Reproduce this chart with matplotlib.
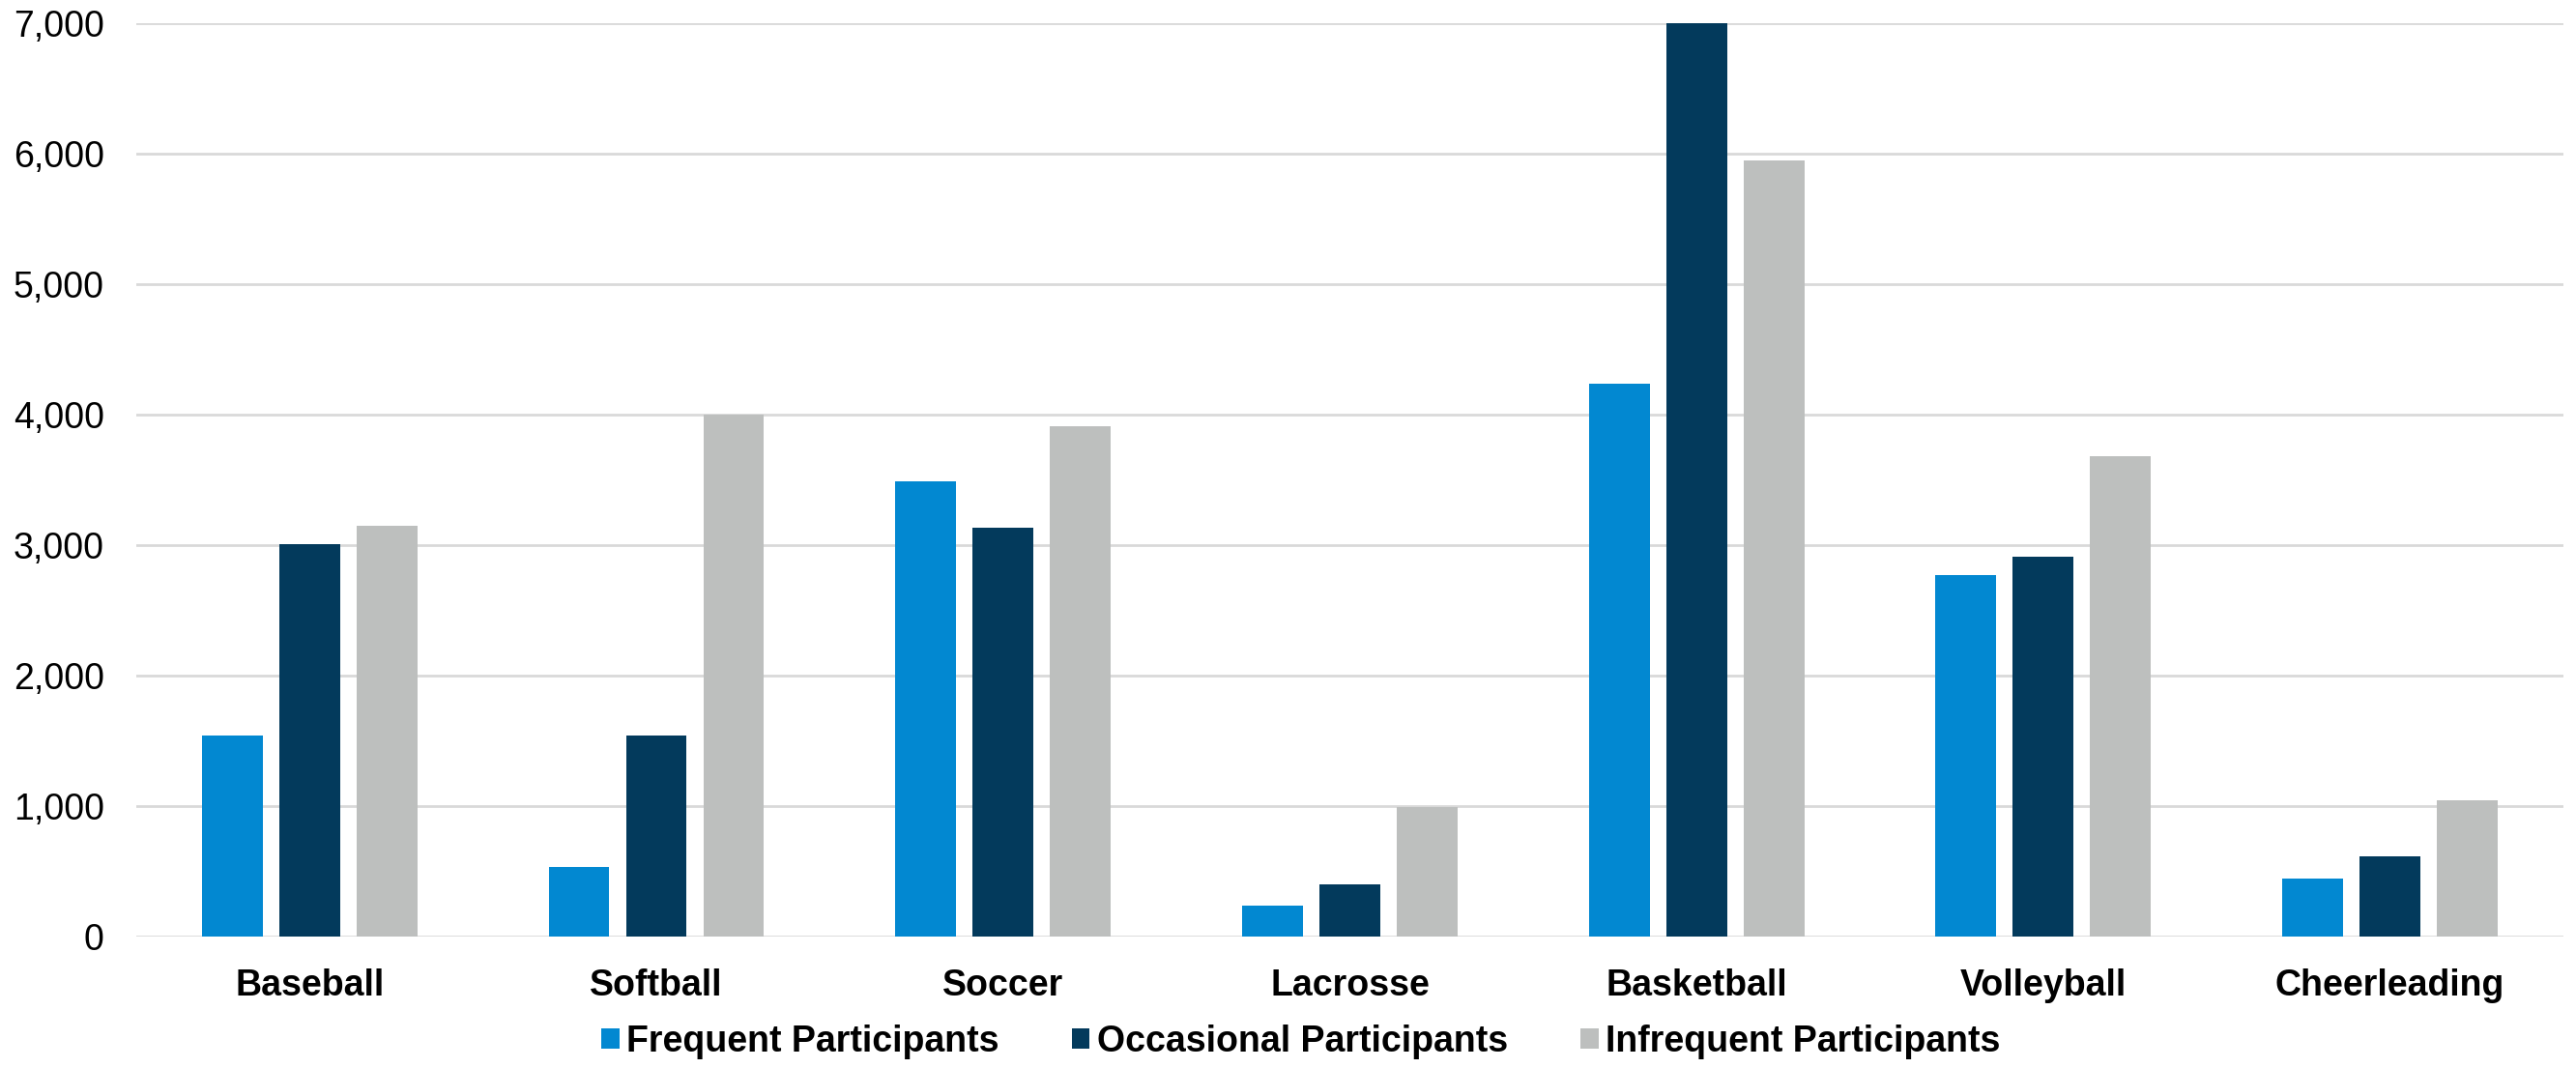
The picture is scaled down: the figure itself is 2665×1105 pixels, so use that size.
import numpy as np
import matplotlib
matplotlib.use("Agg")
import matplotlib.pyplot as plt
from matplotlib.ticker import FuncFormatter

# participation counts by sport
sports = ["Baseball", "Softball", "Soccer", "Lacrosse", "Basketball", "Volleyball", "Cheerleading"]
frequent = [1540, 530, 3490, 240, 4240, 2770, 445]
occasional = [3010, 1540, 3130, 400, 7000, 2910, 615]
infrequent = [3150, 4000, 3910, 990, 5950, 3680, 1045]

series_names = ["Frequent Participants", "Occasional Participants", "Infrequent Participants"]
colors = ["#0288D1", "#033A5C", "#BDBFBE"]

plt.rcParams["font.family"] = ["Liberation Sans", "DejaVu Sans"]

fig = plt.figure(figsize=(26.65, 11.05), dpi=100)
ax = fig.add_axes([0.0529, 0.1231, 0.9422, 0.8552])

x = np.arange(len(sports))
width = 0.175
step = 0.223
for i, (vals, name, c) in enumerate(zip([frequent, occasional, infrequent], series_names, colors)):
    ax.bar(x + (i - 1) * step, vals, width, color=c, label=name, zorder=3)

ax.set_xlim(-0.5, len(sports) - 0.5)
ax.set_ylim(0, 7000)
ax.set_yticks(np.arange(0, 7001, 1000))
ax.yaxis.set_major_formatter(FuncFormatter(lambda v, p: f"{int(v):,}"))
ax.grid(axis="y", color="#D9D9D9", linewidth=2, zorder=0)
for s in ax.spines.values():
    s.set_visible(False)

ax.set_xticks(x)
ax.set_xticklabels(sports, fontweight="bold")
ax.tick_params(axis="x", length=0, pad=24, labelsize=27)
ax.tick_params(axis="y", length=0, pad=24, labelsize=27)

handles, labels = ax.get_legend_handles_labels()
fig.legend(handles, labels, loc="center", bbox_to_anchor=(0.505, 0.0244), ncol=3,
           frameon=False, prop={"weight": "bold", "size": 27},
           handlelength=0.5, handleheight=0.5, handletextpad=0.2, columnspacing=2.0)

fig.savefig("out.png", dpi=100)
